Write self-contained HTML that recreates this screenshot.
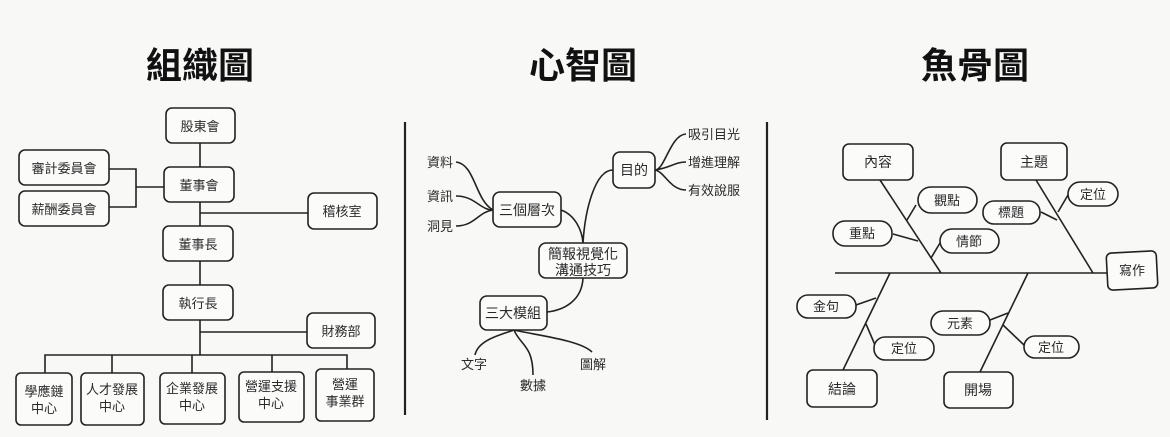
<!DOCTYPE html>
<html><head><meta charset="utf-8"><style>
html,body{margin:0;padding:0;background:#f8f8f6;}
svg{display:block}
text{font-family:"Liberation Sans","Noto Sans CJK TC",sans-serif;fill:#2a2a2a;}
.t{font-size:36px;font-weight:bold;fill:#111}
.b{fill:#fbfbfa;stroke:#222;stroke-width:1.6}
.l{stroke:#222;stroke-width:1.6;fill:none}
.s{font-size:13px}
.m{font-size:14px}
</style></head><body>
<svg width="1170" height="437" viewBox="0 0 1170 437">
<text class="t" x="200" y="78" text-anchor="middle">組織圖</text>
<text class="t" x="583" y="78" text-anchor="middle">心智圖</text>
<text class="t" x="975" y="78" text-anchor="middle">魚骨圖</text>

<!-- Org chart lines -->
<path class="l" d="M200 143V167M200 202V226M200 213H308M200 261V285M200 320V355M200 332H307M45 373V355H347V373M112 355V373M192 355V373M272 355V373M109 169H136V207H109M136 187H164"/>
<rect class="b" x="166" y="108" width="69" height="35" rx="6"/><text class="s" x="200" y="131" text-anchor="middle">股東會</text>
<rect class="b" x="19" y="150" width="90" height="35" rx="6"/><text class="s" x="64" y="173" text-anchor="middle">審計委員會</text>
<rect class="b" x="19" y="191" width="90" height="35" rx="6"/><text class="s" x="64" y="214" text-anchor="middle">薪酬委員會</text>
<rect class="b" x="164" y="167" width="70" height="35" rx="6"/><text class="s" x="199" y="190" text-anchor="middle">董事會</text>
<rect class="b" x="308" y="193" width="69" height="36" rx="6"/><text class="s" x="342" y="216" text-anchor="middle">稽核室</text>
<rect class="b" x="163" y="226" width="70" height="35" rx="6"/><text class="s" x="198" y="249" text-anchor="middle">董事長</text>
<rect class="b" x="163" y="285" width="70" height="35" rx="6"/><text class="s" x="198" y="308" text-anchor="middle">執行長</text>
<rect class="b" x="307" y="313" width="68" height="35" rx="6"/><text class="s" x="341" y="336" text-anchor="middle">財務部</text>
<rect class="b" x="16" y="373" width="56" height="52" rx="5"/><text class="s" x="44" y="396" text-anchor="middle" fill="#666">學應鏈</text><text class="s" x="44" y="413" text-anchor="middle">中心</text>
<rect class="b" x="81" y="373" width="63" height="52" rx="5"/><text class="s" x="112" y="394" text-anchor="middle">人才發展</text><text class="s" x="112" y="411" text-anchor="middle">中心</text>
<rect class="b" x="160" y="373" width="65" height="51" rx="5"/><text class="s" x="192" y="393" text-anchor="middle">企業發展</text><text class="s" x="192" y="410" text-anchor="middle">中心</text>
<rect class="b" x="239" y="372" width="65" height="50" rx="5"/><text class="s" x="271" y="391" text-anchor="middle">營運支援</text><text class="s" x="271" y="408" text-anchor="middle">中心</text>
<rect class="b" x="316" y="369" width="58" height="52" rx="5"/><text class="s" x="345" y="389" text-anchor="middle">營運</text><text class="s" x="345" y="406" text-anchor="middle">事業群</text>

<!-- Dividers -->
<path stroke="#222" stroke-width="2.2" d="M405 122V415M767 122V420"/>

<!-- Mind map -->
<path class="l" d="M456 162C475 164 475 200 493 210M456 196C475 196 480 210 493 210M456 226C475 226 478 212 493 210
M561 210C575 215 582 230 583 243M583 243C585 210 595 170 613 170
M583 278C582 300 565 310 547 312M514 330C500 335 478 340 475 355M514 330C520 345 533 345 533 375M514 330C535 335 580 340 592 352
M655 170C665 170 670 135 686 134M655 170C670 168 675 162 686 162M655 170C665 172 670 190 686 190"/>
<rect class="b" x="613" y="152" width="42" height="36" rx="7"/><text class="m" x="634" y="175" text-anchor="middle">目的</text>
<rect class="b" x="493" y="192" width="68" height="35" rx="7"/><text class="m" x="527" y="215" text-anchor="middle">三個層次</text>
<rect class="b" x="539" y="243" width="88" height="35" rx="7"/><text class="m" x="583" y="259" text-anchor="middle">簡報視覺化</text><text class="m" x="583" y="275" text-anchor="middle">溝通技巧</text>
<rect class="b" x="480" y="296" width="67" height="34" rx="7"/><text class="m" x="513" y="318" text-anchor="middle">三大模組</text>
<text class="s" x="427" y="167">資料</text><text class="s" x="427" y="201">資訊</text><text class="s" x="427" y="231">洞見</text>
<text class="s" x="688" y="139">吸引目光</text><text class="s" x="688" y="167">增進理解</text><text class="s" x="688" y="195">有效說服</text>
<text class="s" x="461" y="369">文字</text><text class="s" x="520" y="390">數據</text><text class="s" x="580" y="369">圖解</text>

<!-- Fishbone -->
<path class="l" d="M835 273H1107M880 180L941 273M1036 180L1093 273M890 273L843 370M1028 273L980 372
M916 205L907 220M893 234L918 241M940 243L931 258M1041 212L1057 220M1068 195L1058 212M856 305L876 298M875 345L866 324M990 320L1008 313M1024 345L1003 325"/>
<rect class="b" x="1107" y="252" width="50" height="37" rx="5" transform="rotate(-3 1132 270)"/><text class="s" x="1132" y="275" text-anchor="middle">寫作</text>
<rect class="b" x="843" y="144" width="70" height="36" rx="6"/><text class="m" x="878" y="167" text-anchor="middle">內容</text>
<rect class="b" x="1001" y="143" width="66" height="37" rx="6"/><text class="m" x="1034" y="167" text-anchor="middle">主題</text>
<rect class="b" x="918" y="187" width="59" height="26" rx="13"/><text class="s" x="947" y="205" text-anchor="middle">觀點</text>
<rect class="b" x="833" y="221" width="59" height="25" rx="12"/><text class="s" x="862" y="238" text-anchor="middle">重點</text>
<rect class="b" x="940" y="229" width="59" height="24" rx="12"/><text class="s" x="969" y="246" text-anchor="middle">情節</text>
<rect class="b" x="983" y="201" width="57" height="23" rx="11"/><text class="s" x="1011" y="217" text-anchor="middle">標題</text>
<rect class="b" x="1068" y="182" width="50" height="24" rx="12"/><text class="s" x="1093" y="199" text-anchor="middle">定位</text>
<rect class="b" x="807" y="370" width="70" height="37" rx="6"/><text class="m" x="842" y="394" text-anchor="middle">結論</text>
<rect class="b" x="944" y="372" width="69" height="36" rx="6"/><text class="m" x="978" y="395" text-anchor="middle">開場</text>
<rect class="b" x="797" y="295" width="59" height="23" rx="11"/><text class="s" x="826" y="311" text-anchor="middle">金句</text>
<rect class="b" x="874" y="337" width="60" height="23" rx="11"/><text class="s" x="904" y="353" text-anchor="middle">定位</text>
<rect class="b" x="931" y="311" width="59" height="24" rx="12"/><text class="s" x="960" y="328" text-anchor="middle">元素</text>
<rect class="b" x="1024" y="336" width="55" height="22" rx="11"/><text class="s" x="1051" y="352" text-anchor="middle">定位</text>
</svg>
</body></html>
